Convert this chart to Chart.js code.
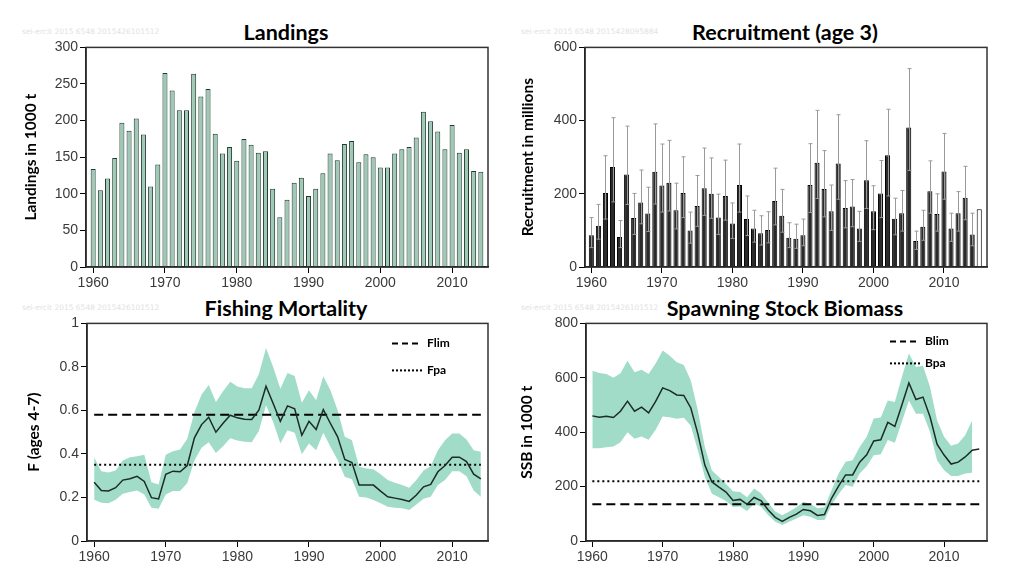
<!DOCTYPE html>
<html>
<head>
<meta charset="utf-8">
<script src="https://cdn.jsdelivr.net/npm/chart.js@4/dist/chart.umd.min.js"></script>
<style>
  body { margin: 0; background: #fff; width: 1023px; height: 574px; overflow: hidden; position: relative; font-family: Lato, "Open Sans", sans-serif; }
  .box { position: absolute; }
  .ttl { position: absolute; width: 300px; text-align: center; font-weight: bold; font-size: 21.5px; line-height: 26px; color: #000; }
  .wm { position: absolute; font-size: 7.5px; color: #e2e2e2; font-family: "DejaVu Sans", sans-serif; white-space: nowrap; }
</style>
</head>
<body>
<div class="ttl" style="left:136px;top:19px">Landings</div>
<div class="ttl" style="left:635px;top:19px">Recruitment (age 3)</div>
<div class="ttl" style="left:136px;top:295px">Fishing Mortality</div>
<div class="ttl" style="left:635px;top:295px">Spawning Stock Biomass</div>
<div class="wm" style="left:22px;top:27px">sei-ercit 2015 6548 2015426101512</div>
<div class="wm" style="left:521px;top:27px">sei-ercit 2015 6548 2015428095884</div>
<div class="wm" style="left:22px;top:303px">sei-ercit 2015 6548 2015426101512</div>
<div class="wm" style="left:521px;top:303px">sei-ercit 2015 6548 2015426101512</div>

<div class="box" style="left:0px;top:37px;width:500px;height:255px"><canvas id="landings"></canvas></div>
<div class="box" style="left:500px;top:37px;width:500px;height:255px"><canvas id="recruit"></canvas></div>
<div class="box" style="left:0px;top:313px;width:500px;height:253px"><canvas id="fmort"></canvas></div>
<div class="box" style="left:500px;top:313px;width:500px;height:253px"><canvas id="ssb"></canvas></div>

<script>
// years
const yearsLand = [];
for (let y = 1960; y <= 2014; y++) yearsLand.push(y);
const yearsRec = [];
for (let y = 1960; y <= 2015; y++) yearsRec.push(y);
const yearsF = yearsLand;
const yearsSSB = yearsRec;

const xTicks = [1960, 1970, 1980, 1990, 2000, 2010];

// landings, 1000 t
const landings = [134,105,121,149,197,186,203,181,110,140, 265,241,214,214,264,233,243,182,155,164,
  145,175,167,156,158,107,68,92,115,122, 97,107,128,155,146,168,172,143,154,150,
  136,136,155,161,164,177,212,199,185,161, 194,156,161,131,130];

// recruitment age 3, millions (2015 = assumed value, open bar)
const recruit = [87,113,202,273,82,253,134,176,146,260, 223,230,155,202,100,167,215,200,135,194,
  119,224,131,105,92,101,180,140,80,77, 87,224,285,213,152,283,161,165,105,237,
  152,201,305,132,147,381,71,110,207,145, 261,105,147,189,89,158];
const recruitHi = [135,171,304,408,127,385,201,265,218,391, 336,346,229,301,150,250,325,298,199,292,
  175,336,194,155,140,151,270,212,121,117, 131,337,428,318,224,416,236,239,152,345,
  222,291,431,188,209,542,98,155,290,200, 365,147,206,275,147,null];
const recruitLo = [53,76,131,178,53,171,89,118,97,172, 150,153,104,135,65,111,141,133,89,128,
  78,150,86,68,60,66,115,95,53,51, 58,149,187,137,100,185,107,110,70,160,
  102,135,194,88,98,264,48,73,147,98, 185,70,98,129,58,null];

// fishing mortality ages 4-7
const fbar = [0.27,0.232,0.23,0.245,0.28,0.286,0.297,0.274,0.199,0.193, 0.306,0.321,0.318,0.347,0.474,0.535,0.569,0.5,0.541,0.578,
  0.566,0.56,0.558,0.601,0.711,0.632,0.55,0.621,0.607,0.486, 0.55,0.512,0.604,0.54,0.479,0.375,0.361,0.257,0.257,0.257,
  0.229,0.203,0.197,0.191,0.182,0.211,0.249,0.26,0.318,0.347, 0.385,0.385,0.365,0.307,0.286];
const fbarHi = [0.385,0.32,0.315,0.324,0.37,0.385,0.39,0.396,0.27,0.26, 0.396,0.413,0.42,0.47,0.592,0.673,0.717,0.639,0.688,0.732,
  0.71,0.702,0.702,0.766,0.887,0.8,0.7,0.772,0.758,0.635, 0.693,0.647,0.757,0.693,0.601,0.479,0.463,0.341,0.333,0.33,
  0.307,0.28,0.268,0.257,0.245,0.28,0.324,0.344,0.417,0.463, 0.494,0.494,0.466,0.417,0.41];
const fbarLo = [0.19,0.176,0.174,0.19,0.217,0.225,0.232,0.214,0.153,0.148, 0.214,0.23,0.23,0.266,0.37,0.428,0.454,0.404,0.436,0.472,
  0.462,0.456,0.454,0.505,0.624,0.547,0.448,0.509,0.497,0.399, 0.448,0.417,0.497,0.433,0.372,0.295,0.284,0.203,0.2,0.188,
  0.173,0.157,0.153,0.15,0.142,0.168,0.194,0.203,0.257,0.28, 0.321,0.321,0.297,0.232,0.203];
const FLIM = 0.58;
const FPA = 0.35;

// spawning stock biomass, 1000 t
const ssb = [460,455,459,454,477,514,477,492,471,513, 563,553,537,535,489,394,278,217,198,180,
  149,153,135,160,148,114,87,72,87,99, 116,111,94,97,157,202,243,243,290,317,
  368,372,436,421,500,581,520,529,457,356, 316,283,290,309,334,338];
const ssbHi = [626,618,614,600,617,663,620,630,614,653, 700,681,657,647,590,480,345,259,235,210,
  183,180,161,193,175,141,108,95,108,124, 144,136,120,124,187,248,291,297,346,383,
  450,454,517,511,603,689,640,644,566,444, 383,350,358,389,444,null];
const ssbLo = [341,341,345,347,363,400,376,384,372,409, 458,455,449,453,424,333,235,174,161,147,
  125,127,110,138,126,95,71,59,71,83, 95,89,77,77,132,172,206,199,248,275,
  315,319,371,361,438,517,468,468,401,297, 260,239,239,248,251,null];
const BLIM = 135;
const BPA = 220;

const BAND = 'rgb(160,220,200)';
const LINE = '#1d2b26';
const TICKFONT = { family: '"Liberation Sans", Arial, sans-serif', size: 14 };
const TICKCOLOR = '#3a3a3a';

const pts = (xs, ys) => xs.map((x, i) => ({ x: x, y: ys[i] }));
const hline = (xs, v) => [{ x: xs[0], y: v }, { x: xs[xs.length - 1], y: v }];

// box round the plot (top and right sides)
const frame = {
  id: 'frame',
  afterDraw(chart) {
    const a = chart.chartArea, c = chart.ctx;
    c.save();
    c.strokeStyle = '#333';
    c.lineWidth = 1.5;
    c.strokeRect(a.left, a.top, a.right - a.left, a.bottom - a.top);
    c.restore();
  }
};

// whiskers for recruitment
const whiskers = {
  id: 'whiskers',
  afterDatasetsDraw(chart, args, opts) {
    if (!opts.hi) return;
    const c = chart.ctx, xs = chart.scales.x, ys = chart.scales.y;
    c.save();
    c.strokeStyle = '#9a9a9a';
    c.lineWidth = 1;
    opts.years.forEach((yr, i) => {
      if (opts.hi[i] == null) return;
      const px = Math.round(xs.getPixelForValue(yr)) + 0.5;
      const top = ys.getPixelForValue(opts.hi[i]);
      const bot = ys.getPixelForValue(opts.lo[i]);
      c.beginPath();
      c.moveTo(px, bot); c.lineTo(px, top);
      c.moveTo(px - 2, top); c.lineTo(px + 2, top);
      c.moveTo(px - 2, bot); c.lineTo(px + 2, bot);
      c.stroke();
    });
    c.restore();
  }
};

// reference point legend in the top right corner
const refLegend = {
  id: 'refLegend',
  afterDraw(chart, args, opts) {
    if (!opts.items) return;
    const a = chart.chartArea, c = chart.ctx;
    c.save();
    c.font = 'bold 12px Lato, sans-serif';
    c.fillStyle = '#000';
    c.textBaseline = 'middle';
    opts.items.forEach((it, k) => {
      const y = a.top + opts.dy[k];
      const x0 = a.right - opts.dx;
      c.strokeStyle = '#000';
      c.lineWidth = 2;
      c.setLineDash(it.dash);
      c.beginPath(); c.moveTo(x0, y); c.lineTo(x0 + 30, y); c.stroke();
      c.setLineDash([]);
      c.fillText(it.label, x0 + 35, y);
    });
    c.restore();
  }
};

function xScale(min, max) {
  return {
    type: 'linear', min: min, max: max, offset: false,
    grid: { offset: false, drawOnChartArea: false, drawTicks: true, tickLength: 6, color: '#000' },
    border: { display: true, color: '#000', width: 1.5 },
    afterBuildTicks: s => { s.ticks = xTicks.map(v => ({ value: v })); },
    afterFit: s => { s.height = 25; },
    ticks: { font: TICKFONT, color: TICKCOLOR, padding: 2, maxRotation: 0, autoSkip: false, callback: v => String(v) }
  };
}

function yScale(max, step, title, w, pad) {
  return {
    min: 0, max: max,
    grid: { drawOnChartArea: false, drawTicks: true, tickLength: 6, color: '#000' },
    border: { display: true, color: '#000', width: 1.5 },
    afterFit: s => { s.width = w; },
    ticks: { stepSize: step, font: TICKFONT, color: TICKCOLOR, padding: 2, callback: v => String(Number(v.toFixed(2))) },
    title: { display: true, text: title, color: '#000', font: { family: 'Lato, sans-serif', size: 15.5, weight: 'bold' }, padding: { top: pad, bottom: 0 } }
  };
}

const basePlugins = { legend: { display: false }, tooltip: { enabled: false } };

new Chart(document.getElementById('landings'), {
  type: 'bar',
  data: {
    datasets: [{
      data: pts(yearsLand, landings),
      backgroundColor: '#9fc8b5',
      borderColor: '#1f3a30',
      borderWidth: 1,
      barPercentage: 0.7,
      categoryPercentage: 1
    }]
  },
  options: {
    responsive: true, maintainAspectRatio: false, animation: false,
    layout: { padding: { left: 0, right: 12, top: 10, bottom: 0 } },
    plugins: basePlugins,
    scales: { x: xScale(1959, 2015), y: yScale(300, 50, 'Landings in 1000 t', 86, 22) }
  },
  plugins: [frame]
});

new Chart(document.getElementById('recruit'), {
  type: 'bar',
  data: {
    datasets: [{
      data: pts(yearsRec, recruit),
      backgroundColor: yearsRec.map((y, i) => recruitHi[i] == null ? '#ffffff' : '#2a2a2a'),
      borderColor: '#000',
      borderWidth: 1,
      barPercentage: 0.72,
      categoryPercentage: 1
    }]
  },
  options: {
    responsive: true, maintainAspectRatio: false, animation: false,
    layout: { padding: { left: 0, right: 13, top: 10, bottom: 0 } },
    plugins: Object.assign({}, basePlugins, { whiskers: { years: yearsRec, hi: recruitHi, lo: recruitLo } }),
    scales: { x: xScale(1959.1, 2016.1), y: yScale(600, 200, 'Recruitment in millions', 85, 19) }
  },
  plugins: [whiskers, frame]
});

new Chart(document.getElementById('fmort'), {
  type: 'line',
  data: {
    datasets: [
      { data: pts(yearsF, fbar), borderColor: LINE, borderWidth: 1.5, pointRadius: 0, tension: 0, order: 0 },
      { data: hline(yearsF, FLIM), borderColor: '#000', borderWidth: 2, borderDash: [9, 5], pointRadius: 0, order: 1 },
      { data: hline(yearsF, FPA), borderColor: '#000', borderWidth: 2, borderDash: [2, 3], pointRadius: 0, order: 2 },
      { data: pts(yearsF, fbarLo), borderWidth: 0, pointRadius: 0, fill: false, order: 3 },
      { data: pts(yearsF, fbarHi), borderWidth: 0, pointRadius: 0, fill: '-1', backgroundColor: BAND, order: 4 }
    ]
  },
  options: {
    responsive: true, maintainAspectRatio: false, animation: false,
    layout: { padding: { left: 0, right: 12, top: 10, bottom: 0 } },
    plugins: Object.assign({}, basePlugins, { refLegend: { items: [{ label: 'Flim', dash: [6, 4] }, { label: 'Fpa', dash: [2, 2] }], dx: 96, dy: [20, 47] } }),
    scales: { x: xScale(1959, 2015), y: yScale(1, 0.2, 'F (ages 4-7)', 87, 25) }
  },
  plugins: [refLegend, frame]
});

new Chart(document.getElementById('ssb'), {
  type: 'line',
  data: {
    datasets: [
      { data: pts(yearsSSB, ssb), borderColor: LINE, borderWidth: 1.5, pointRadius: 0, tension: 0, order: 0 },
      { data: hline(yearsSSB, BLIM), borderColor: '#000', borderWidth: 2, borderDash: [9, 5], pointRadius: 0, order: 1 },
      { data: hline(yearsSSB, BPA), borderColor: '#000', borderWidth: 2, borderDash: [2, 3], pointRadius: 0, order: 2 },
      { data: pts(yearsSSB, ssbLo), borderWidth: 0, pointRadius: 0, fill: false, order: 3 },
      { data: pts(yearsSSB, ssbHi), borderWidth: 0, pointRadius: 0, fill: '-1', backgroundColor: BAND, order: 4 }
    ]
  },
  options: {
    responsive: true, maintainAspectRatio: false, animation: false,
    layout: { padding: { left: 0, right: 13, top: 10, bottom: 0 } },
    plugins: Object.assign({}, basePlugins, { refLegend: { items: [{ label: 'Blim', dash: [6, 4] }, { label: 'Bpa', dash: [2, 2] }], dx: 97, dy: [18, 40] } }),
    scales: { x: xScale(1959.1, 2016.1), y: yScale(800, 200, 'SSB in 1000 t', 86, 18) }
  },
  plugins: [refLegend, frame]
});
</script>
</body>
</html>
